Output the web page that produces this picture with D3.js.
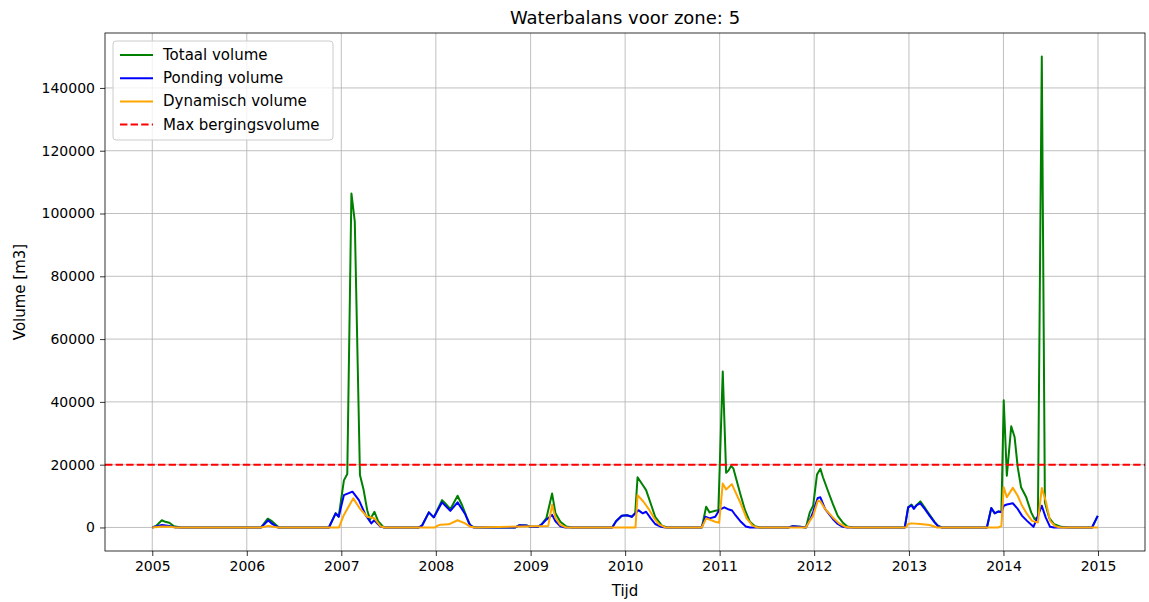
<!DOCTYPE html>
<html>
<head>
<meta charset="utf-8">
<script src="https://cdn.jsdelivr.net/npm/d3@7"></script>
<style>
  html, body { margin: 0; padding: 0; background: #fff; }
  svg { display: block; font-family: "DejaVu Sans", sans-serif; }
</style>
</head>
<body>
<svg id="chart" width="1149" height="602"></svg>
<script>
// ---- data ----
const title = "Waterbalans voor zone: 5";
const xLabel = "Tijd";
const yLabel = "Volume [m3]";
const maxBerging = 20000;
const yTicks = [0, 20000, 40000, 60000, 80000, 100000, 120000, 140000];
const xTickYears = [2005, 2006, 2007, 2008, 2009, 2010, 2011, 2012, 2013, 2014, 2015];
const seriesNames = ["Totaal volume", "Ponding volume", "Dynamisch volume", "Max bergingsvolume"];

const totaal = [
  ["2005-01-01",0],["2005-01-16",500],["2005-02-07",2300],["2005-02-20",1800],["2005-03-08",1500],["2005-03-26",400],["2005-04-22",0],
  ["2006-02-25",0],["2006-03-23",2800],["2006-04-08",2000],["2006-05-05",0],
  ["2006-11-14",0],["2006-12-10",4500],["2006-12-22",3500],["2007-01-11",15000],["2007-01-24",17000],["2007-02-09",106400],["2007-02-22",97500],
  ["2007-03-14",16700],["2007-03-28",12000],["2007-04-11",5500],["2007-04-22",2500],["2007-05-09",5000],["2007-05-23",2000],["2007-06-14",0],
  ["2007-10-27",0],["2007-11-09",600],["2007-12-05",4800],["2007-12-24",3200],["2008-01-25",8700],["2008-02-05",7800],["2008-02-26",5800],
  ["2008-03-25",10100],["2008-04-12",7000],["2008-04-28",3500],["2008-05-14",500],["2008-06-02",0],
  ["2008-11-03",0],["2008-11-19",700],["2008-12-16",600],["2009-01-01",200],["2009-01-28",200],["2009-02-12",1000],["2009-03-03",3000],
  ["2009-03-25",10800],["2009-04-07",4500],["2009-04-26",1800],["2009-05-19",300],["2009-06-11",0],
  ["2009-11-12",0],["2009-11-27",2000],["2009-12-19",3700],["2010-01-08",3900],["2010-01-27",3400],["2010-02-09",4600],["2010-02-18",16000],
  ["2010-03-10",13500],["2010-03-23",11900],["2010-04-14",6600],["2010-04-27",3400],["2010-05-23",600],["2010-06-12",0],
  ["2010-10-24",0],["2010-11-10",6600],["2010-11-23",4800],["2010-12-15",5300],["2010-12-27",5500],["2011-01-13",49700],["2011-01-26",17400],
  ["2011-02-04",18100],["2011-02-14",19600],["2011-02-23",18800],["2011-03-21",10900],["2011-04-09",5500],["2011-04-28",1800],["2011-05-17",400],["2011-06-05",0],
  ["2011-09-22",0],["2011-10-11",400],["2011-11-07",200],["2011-11-30",0],["2011-12-15",4800],["2011-12-28",6900],["2012-01-12",16900],
  ["2012-01-25",18700],["2012-02-04",16000],["2012-02-23",11700],["2012-03-13",7500],["2012-04-01",3700],["2012-04-20",1600],["2012-05-08",300],["2012-05-28",0],
  ["2012-12-16",0],["2012-12-29",6400],["2013-01-11",7300],["2013-01-20",6200],["2013-01-31",7200],["2013-02-14",8300],["2013-03-03",6300],
  ["2013-03-22",4000],["2013-04-10",1800],["2013-04-23",600],["2013-05-08",0],
  ["2013-10-29",0],["2013-11-15",6200],["2013-11-28",4500],["2013-12-13",5100],["2013-12-24",5000],["2014-01-02",40500],["2014-01-14",16500],
  ["2014-01-31",32200],["2014-02-13",28800],["2014-02-25",19200],["2014-03-10",12800],["2014-03-30",9600],["2014-04-18",4800],["2014-05-01",2700],
  ["2014-05-14",3200],["2014-05-29",150000],["2014-06-10",8000],["2014-06-27",3000],["2014-07-16",1000],["2014-08-12",200],["2014-09-12",0],
  ["2014-12-09",0],["2014-12-31",3700]
];

const ponding = [
  ["2005-01-01",0],["2005-02-07",800],["2005-03-08",500],["2005-04-01",0],
  ["2006-02-25",0],["2006-03-25",2300],["2006-04-08",1200],["2006-05-01",0],
  ["2006-11-14",0],["2006-12-10",4500],["2006-12-22",3400],["2007-01-11",10300],["2007-02-13",11400],["2007-03-10",8700],["2007-04-05",3900],
  ["2007-04-27",1300],["2007-05-08",2300],["2007-06-02",200],["2007-06-20",0],
  ["2007-10-27",0],["2007-11-09",600],["2007-12-05",4800],["2007-12-24",3200],["2008-01-25",8000],["2008-02-26",5300],["2008-03-25",8000],
  ["2008-04-23",4300],["2008-05-10",1000],["2008-05-25",0],
  ["2008-11-03",0],["2008-11-19",700],["2008-12-16",600],["2009-01-01",200],["2009-01-28",200],["2009-02-12",900],["2009-03-03",2500],
  ["2009-03-25",4000],["2009-04-07",2000],["2009-04-26",400],["2009-05-15",0],
  ["2009-11-12",0],["2009-11-27",2000],["2009-12-19",3700],["2010-01-08",3900],["2010-01-27",3400],["2010-02-09",4500],["2010-02-21",5500],
  ["2010-03-10",4500],["2010-03-23",5000],["2010-04-10",2900],["2010-04-27",1100],["2010-05-20",200],["2010-06-05",0],
  ["2010-10-24",0],["2010-11-07",3400],["2010-11-23",2900],["2010-12-15",3400],["2011-01-01",5700],["2011-01-19",6400],["2011-02-06",5700],
  ["2011-02-18",5400],["2011-03-03",3900],["2011-03-24",1800],["2011-04-12",300],["2011-04-28",0],
  ["2011-09-22",0],["2011-10-11",400],["2011-11-07",200],["2011-11-30",0],["2011-12-20",3200],["2011-12-28",5000],["2012-01-15",9400],
  ["2012-01-25",9600],["2012-02-12",5900],["2012-03-13",2700],["2012-04-01",1100],["2012-04-20",200],["2012-05-08",0],
  ["2012-12-16",0],["2012-12-29",6400],["2013-01-11",7000],["2013-01-20",5900],["2013-01-31",7100],["2013-02-14",7700],["2013-03-03",5900],
  ["2013-03-22",3700],["2013-04-10",1600],["2013-04-23",400],["2013-05-08",0],
  ["2013-10-29",0],["2013-11-15",6200],["2013-11-28",4500],["2013-12-13",5100],["2013-12-24",4800],["2014-01-02",6900],["2014-01-14",7300],
  ["2014-02-06",7700],["2014-02-25",5900],["2014-03-14",3700],["2014-04-02",2100],["2014-04-27",200],["2014-05-29",6900],["2014-06-13",3200],
  ["2014-06-30",200],["2014-07-15",0],["2014-12-09",0],["2014-12-31",3700]
];

const dynamisch = [
  ["2005-01-01",0],["2005-02-07",300],["2005-03-08",200],["2005-04-01",0],
  ["2006-02-25",0],["2006-03-25",500],["2006-05-01",0],
  ["2006-12-23",0],["2007-01-11",4000],["2007-02-16",9250],["2007-03-14",6000],["2007-04-11",3400],["2007-05-09",2900],["2007-06-02",300],["2007-06-20",0],
  ["2007-12-28",0],["2008-01-06",500],["2008-01-19",900],["2008-02-20",1000],["2008-03-25",2300],["2008-04-23",1300],["2008-05-14",200],["2008-06-02",0],
  ["2009-03-10",500],["2009-03-25",7200],["2009-04-07",3000],["2009-04-26",800],["2009-05-19",0],
  ["2010-02-10",0],["2010-02-18",10300],["2010-03-13",8200],["2010-04-05",5500],["2010-04-23",2900],["2010-05-12",1000],["2010-06-05",0],
  ["2010-10-24",0],["2010-11-10",2900],["2010-12-15",1800],["2010-12-30",1500],["2011-01-13",14000],["2011-01-26",12100],["2011-02-17",13800],
  ["2011-03-23",7700],["2011-04-15",2900],["2011-05-09",500],["2011-05-28",0],
  ["2011-11-30",0],["2011-12-15",2100],["2011-12-28",3700],["2012-01-15",8500],["2012-01-25",8300],["2012-02-12",5900],["2012-03-13",3200],
  ["2012-04-06",1300],["2012-04-30",200],["2012-05-20",0],
  ["2012-12-20",0],["2012-12-29",1100],["2013-01-11",1300],["2013-02-14",1100],["2013-03-22",800],["2013-04-20",0],
  ["2013-12-13",0],["2013-12-24",500],["2014-01-02",12800],["2014-01-14",9600],["2014-02-06",12600],["2014-02-25",10100],["2014-03-14",6900],
  ["2014-04-02",4300],["2014-04-21",2100],["2014-05-14",1600],["2014-05-29",12600],["2014-06-13",8500],["2014-06-30",2100],["2014-07-20",400],
  ["2014-08-10",0],["2014-12-31",0]
];

// ---- drawing ----
const W = 1149, H = 602;
const margin = { left: 105, right: 4, top: 33, bottom: 51 };
const plotW = W - margin.left - margin.right;
const plotH = H - margin.top - margin.bottom;

const parse = d3.timeParse("%Y-%m-%d");
const toPts = arr => arr.map(([d, v]) => ({ date: parse(d), value: v }));
const series = [
  { name: seriesNames[0], color: "green", pts: toPts(totaal) },
  { name: seriesNames[1], color: "blue", pts: toPts(ponding) },
  { name: seriesNames[2], color: "orange", pts: toPts(dynamisch) }
];

const allDates = series.flatMap(s => s.pts.map(p => p.date));
const [d0, d1] = d3.extent(allDates);
const span = d1 - d0;
const x = d3.scaleTime()
  .domain([new Date(+d0 - 0.05 * span), new Date(+d1 + 0.05 * span)])
  .range([0, plotW]);
const yMax = d3.max(series.flatMap(s => s.pts.map(p => p.value)));
const yPad = 0.05 * yMax;
const y = d3.scaleLinear().domain([-yPad, yMax + yPad]).range([plotH, 0]);

const svg = d3.select("#chart");
const g = svg.append("g").attr("transform", `translate(${margin.left},${margin.top})`);

const xTickDates = xTickYears.map(yr => new Date(yr, 0, 1));

// grid
g.append("g").selectAll("line").data(xTickDates).join("line")
  .attr("x1", d => x(d)).attr("x2", d => x(d)).attr("y1", 0).attr("y2", plotH)
  .attr("stroke", "#b0b0b0").attr("stroke-width", 0.8);
g.append("g").selectAll("line").data(yTicks).join("line")
  .attr("x1", 0).attr("x2", plotW).attr("y1", d => y(d)).attr("y2", d => y(d))
  .attr("stroke", "#b0b0b0").attr("stroke-width", 0.8);

// lines
const line = d3.line().x(d => x(d.date)).y(d => y(d.value));
g.append("clipPath").attr("id", "clip").append("rect").attr("width", plotW).attr("height", plotH);
const lines = g.append("g").attr("clip-path", "url(#clip)");
series.forEach(s => {
  lines.append("path").datum(s.pts).attr("d", line)
    .attr("fill", "none").attr("stroke", s.color).attr("stroke-width", 2)
    .attr("stroke-linejoin", "round").attr("stroke-linecap", "butt");
});
lines.append("line")
  .attr("x1", 0).attr("x2", plotW).attr("y1", y(maxBerging)).attr("y2", y(maxBerging))
  .attr("stroke", "red").attr("stroke-width", 2).attr("stroke-dasharray", "7.4,3.2");

// axes
const xAxis = d3.axisBottom(x).tickValues(xTickDates).tickFormat(d3.timeFormat("%Y"))
  .tickSize(5).tickPadding(5);
const yAxis = d3.axisLeft(y).tickValues(yTicks).tickFormat(d => String(d))
  .tickSize(5).tickPadding(5);
const gx = g.append("g").attr("transform", `translate(0,${plotH})`).call(xAxis);
const gy = g.append("g").call(yAxis);
[gx, gy].forEach(a => {
  a.select(".domain").remove();
  a.selectAll(".tick line").attr("stroke", "#000").attr("stroke-width", 0.8);
  a.selectAll(".tick text").attr("fill", "#000").style("font-size", "14px").style("font-family", "DejaVu Sans");
});

// frame
g.append("rect").attr("width", plotW).attr("height", plotH)
  .attr("fill", "none").attr("stroke", "#000").attr("stroke-width", 0.8);

// labels
svg.append("text").attr("x", margin.left + plotW / 2).attr("y", 24)
  .attr("text-anchor", "middle").style("font-size", "18px").text(title);
svg.append("text").attr("x", margin.left + plotW / 2).attr("y", 596)
  .attr("text-anchor", "middle").style("font-size", "15px").text(xLabel);
svg.append("text").attr("transform", `translate(25,${margin.top + plotH / 2}) rotate(-90)`)
  .attr("text-anchor", "middle").style("font-size", "15px").text(yLabel);

// legend
const lg = svg.append("g").attr("transform", "translate(113,41)");
lg.append("rect").attr("width", 220).attr("height", 99).attr("rx", 3)
  .attr("fill", "#fff").attr("fill-opacity", 0.8).attr("stroke", "#cccccc").attr("stroke-width", 1);
const legendItems = [
  { name: seriesNames[0], color: "green", dash: null },
  { name: seriesNames[1], color: "blue", dash: null },
  { name: seriesNames[2], color: "orange", dash: null },
  { name: seriesNames[3], color: "red", dash: "7.4,3.2" }
];
legendItems.forEach((it, i) => {
  const yy = 14 + i * 23.2;
  lg.append("line").attr("x1", 7).attr("x2", 40).attr("y1", yy).attr("y2", yy)
    .attr("stroke", it.color).attr("stroke-width", 2).attr("stroke-dasharray", it.dash);
  lg.append("text").attr("x", 50).attr("y", yy + 5).style("font-size", "15px").text(it.name);
});
</script>
</body>
</html>
